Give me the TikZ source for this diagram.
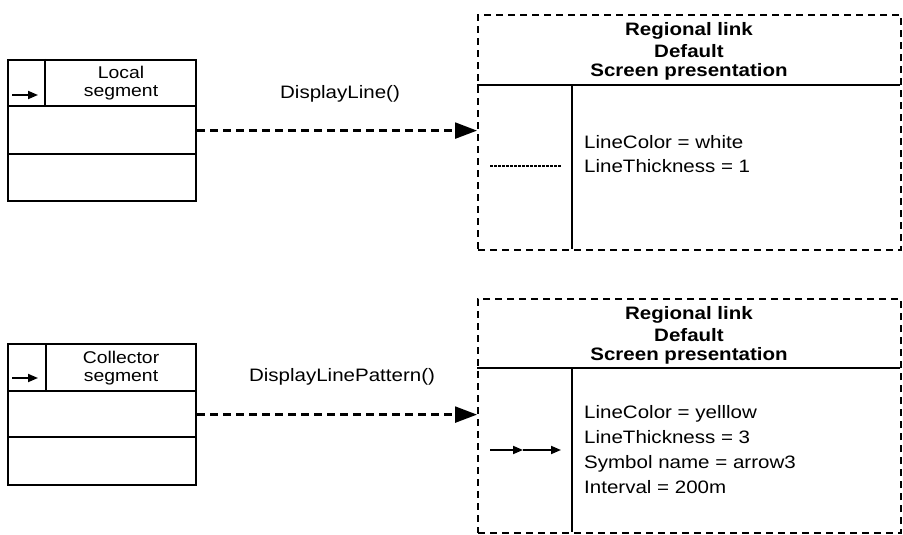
\documentclass[tikz,border=0pt]{standalone}
\usepackage{fontspec}
\setmainfont{Liberation Sans}[FakeStretch=1.14]
\usetikzlibrary{arrows.meta}
\begin{document}
\begin{tikzpicture}[x=1pt,y=-1pt,
 box/.style={draw, line width=2.2pt, inner sep=0pt, anchor=north west},
 dbox/.style={draw, line width=2.2pt, dash pattern=on 7pt off 5pt, inner sep=0pt, anchor=north west},
 sep/.style={line width=2.2pt},
 txt/.style={inner sep=0pt, text height=13pt, text depth=0pt, font=\fontsize{18}{20}\selectfont},
 ttl/.style={inner sep=0pt, text height=13pt, text depth=0pt, font=\fontsize{18}{20}\selectfont\bfseries},
 seg/.style={inner sep=0pt, text height=12pt, text depth=0pt, font=\fontsize{17}{18}\selectfont},
 call/.style={line width=2.4pt, dash pattern=on 8pt off 5pt, -{Triangle[length=22pt,width=16pt]}},
 mini/.style={line width=1.8pt, -{Triangle[length=10pt,width=8pt]}},
 fine/.style={line width=1.2pt, dash pattern=on 3pt off 1pt}
]
\useasboundingbox (0,0) rectangle (903,535);

% ---------- upper pair ----------
\node[box, minimum width=188pt, minimum height=141pt] (L1) at (7,59) {};
\draw[sep] (7,106) -- (195,106);
\draw[sep] (7,154) -- (195,154);
\draw[sep] (45,59) -- (45,106);
\draw[mini] (12,95) -- (38,95);
\node[seg] (L1a) at (121,73) {Local};
\node[seg] (L1b) at (121,90) {segment};

\node[dbox, minimum width=423pt, minimum height=235pt] (R1) at (477,14) {};
\draw[sep] (477,85) -- (900,85);
\draw[sep] (572,85) -- (572,249);
\node[ttl] (R1t1) at (689,29) {Regional link};
\node[ttl] (R1t2) at (689,51) {Default};
\node[ttl] (R1t3) at (689,70) {Screen presentation};
\node[txt, anchor=west] (R1a) at (584,142) {LineColor = white};
\node[txt, anchor=west] (R1b) at (584,166) {LineThickness = 1};
\draw[fine] (490,166) -- (562,166);

\draw[call] (L1.east) -- (L1.east -| R1.west);
\node[txt] (C1) at (340,92) {DisplayLine()};

% ---------- lower pair ----------
\node[box, minimum width=188pt, minimum height=141pt] (L2) at (7,343) {};
\draw[sep] (7,391) -- (195,391);
\draw[sep] (7,437) -- (195,437);
\draw[sep] (46,343) -- (46,391);
\draw[mini] (12,378) -- (38,378);
\node[seg] (L2a) at (121,357) {Collector};
\node[seg] (L2b) at (121,375) {segment};

\node[dbox, minimum width=423pt, minimum height=234pt] (R2) at (477,298) {};
\draw[sep] (477,368) -- (900,368);
\draw[sep] (572,368) -- (572,532);
\node[ttl] (R2t1) at (689,313) {Regional link};
\node[ttl] (R2t2) at (689,335) {Default};
\node[ttl] (R2t3) at (689,354) {Screen presentation};
\node[txt, anchor=west] (R2a) at (584,412) {LineColor = yelllow};
\node[txt, anchor=west] (R2b) at (584,437) {LineThickness = 3};
\node[txt, anchor=west] (R2c) at (584,462) {Symbol name = arrow3};
\node[txt, anchor=west] (R2d) at (584,487) {Interval = 200m};
\draw[mini] (490,450) -- (523,450);
\draw[mini] (523,450) -- (561,450);

\draw[call] (L2.east) -- (L2.east -| R2.west);
\node[txt] (C2) at (342,375) {DisplayLinePattern()};
\end{tikzpicture}
\end{document}
